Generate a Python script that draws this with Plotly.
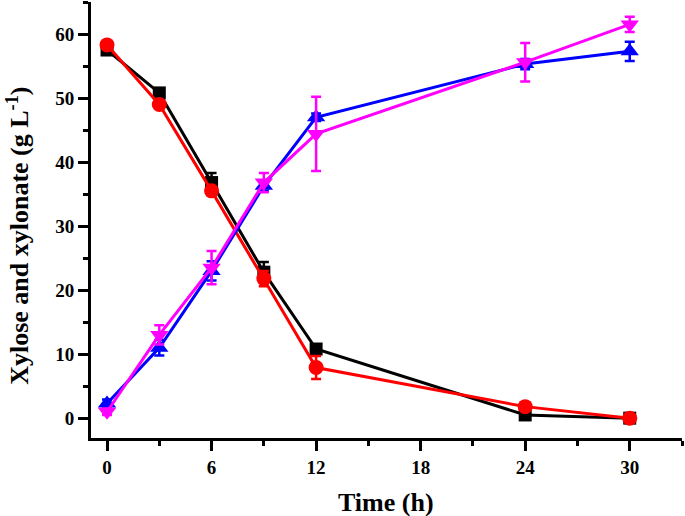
import plotly.graph_objects as go

time = [0, 3, 6, 9, 12, 24, 30]

xylose_a = [57.5, 50.8, 36.8, 22.8, 10.8, 0.5, 0.0]
xylose_a_err = [0.6, 0.6, 1.5, 1.6, 0.6, 0.4, 0.3]

xylose_b = [58.3, 49.0, 35.5, 21.8, 7.9, 1.8, 0.0]
xylose_b_err = [0.5, 0.6, 0.6, 1.2, 1.8, 0.6, 0.3]

xylonate_a = [2.3, 11.0, 23.0, 36.3, 47.0, 55.3, 57.3]
xylonate_a_err = [0.6, 1.2, 1.5, 0.8, 0.6, 0.8, 1.5]

xylonate_b = [1.0, 13.0, 23.5, 36.8, 44.4, 55.6, 61.5]
xylonate_b_err = [0.5, 1.5, 2.6, 1.5, 5.8, 3.0, 1.2]

series = [
    (xylose_a, xylose_a_err, "#000000", "square", 13),
    (xylose_b, xylose_b_err, "#ff0000", "circle", 15),
    (xylonate_a, xylonate_a_err, "#0000ff", "triangle-up", 16),
    (xylonate_b, xylonate_b_err, "#ff00ff", "triangle-down", 16),
]

fig = go.Figure()
for ys, err, col, sym, sz in series:
    fig.add_trace(go.Scatter(
        x=time, y=ys, mode="lines+markers",
        line=dict(color=col, width=3),
        marker=dict(symbol=sym, size=sz, color=col),
        error_y=dict(type="data", array=err, visible=True, color=col, thickness=2.5, width=5),
        showlegend=False,
    ))

tfont = dict(family="Liberation Serif", size=19, color="black", weight="bold")
fig.update_layout(
    width=685, height=516,
    margin=dict(l=91, r=3, t=2, b=78),
    plot_bgcolor="white", paper_bgcolor="white",
    font=dict(family="Liberation Serif", color="black"),
    annotations=[
        dict(text="<b>Time (h)</b>", xref="paper", yref="paper", x=0.499, y=-0.147,
             xanchor="center", yanchor="middle", showarrow=False,
             font=dict(family="Liberation Serif", size=26, color="black")),
        dict(text="<b>Xylose and xylonate (g L<sup>-1</sup>)</b>", xref="paper", yref="paper",
             x=-0.124, y=0.463, xanchor="center", yanchor="middle", textangle=-90, showarrow=False,
             font=dict(family="Liberation Serif", size=26, color="black")),
    ],
)
fig.update_xaxes(
    range=[-0.92, 33], tickvals=[0, 6, 12, 18, 24, 30], automargin=False,
    ticks="outside", ticklen=10, tickwidth=2.5, tickcolor="black",
    minor=dict(dtick=3, tick0=0, ticks="outside", ticklen=5, tickwidth=2.5, tickcolor="black"),
    showline=True, linecolor="black", linewidth=3, showgrid=False, zeroline=False,
    tickfont=tfont,
)
fig.update_yaxes(
    range=[-3.1, 65], tickvals=[0, 10, 20, 30, 40, 50, 60], automargin=False,
    ticks="outside", ticklen=10, tickwidth=2.5, tickcolor="black",
    minor=dict(dtick=5, tick0=0, ticks="outside", ticklen=5, tickwidth=2.5, tickcolor="black"),
    showline=True, linecolor="black", linewidth=3, showgrid=False, zeroline=False,
    tickfont=tfont,
)
fig.write_html("out.html", config={"displayModeBar": False},
               post_script="document.body.style.margin='0';")
